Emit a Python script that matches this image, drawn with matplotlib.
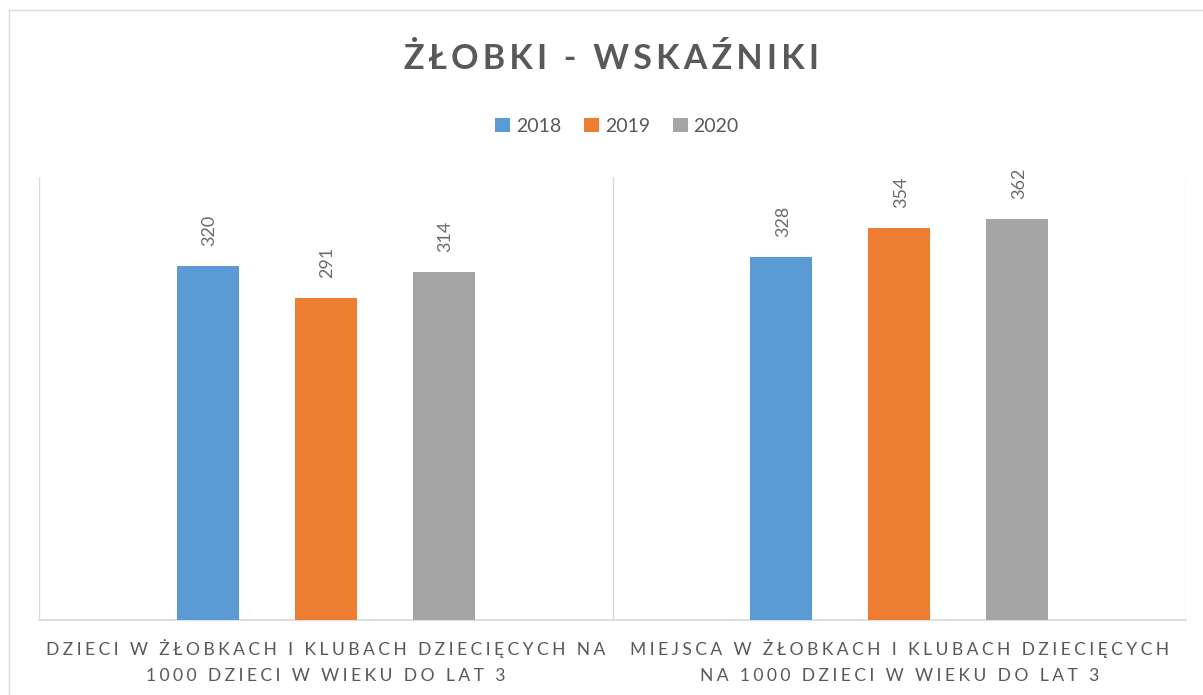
import numpy as np
import matplotlib.pyplot as plt

plt.rcParams['font.family'] = ['Lato', 'DejaVu Sans']

# data
categories = ["DZIECI W ŻŁOBKACH I KLUBACH DZIECIĘCYCH NA\n1000 DZIECI W WIEKU DO LAT 3",
              "MIEJSCA W ŻŁOBKACH I KLUBACH DZIECIĘCYCH\nNA 1000 DZIECI W WIEKU DO LAT 3"]
years = ["2018", "2019", "2020"]
values = {"2018": [320, 328],
          "2019": [291, 354],
          "2020": [314, 362]}
colors = ["#5B9BD5", "#ED7D31", "#A5A5A5"]

txt = "#595959"
grid = "#D9D9D9"


def track(s, sp="\u200a"):
    # fake letter spacing with hair spaces
    return "\n".join(sp.join(line) for line in s.split("\n"))


fig = plt.figure(figsize=(12.03, 6.95), dpi=100)
ax = fig.add_axes([39/1203, 75/695, (1186-39)/1203, (620-177)/695])

x = np.arange(len(categories))
w = 0.108
step = 0.2056
for i, (yr, c) in enumerate(zip(years, colors)):
    pos = x + (i-1)*step
    ax.bar(pos, values[yr], width=w, color=c, label=yr, zorder=3)
    for p, v in zip(pos, values[yr]):
        ax.text(p + 0.003, v + 18, str(v), rotation=90, ha='center', va='bottom',
                fontsize=13, color="#6b6b6b")

ax.set_xlim(-0.5, 1.5)
ax.set_ylim(0, 400)
ax.set_yticks([])
for b in [-0.5, 0.5, 1.5]:
    ax.axvline(b, color=grid, lw=1, zorder=1)
for s in ['top', 'right', 'left']:
    ax.spines[s].set_visible(False)
ax.spines['bottom'].set_color(grid)
ax.spines['bottom'].set_linewidth(1.2)

ax.set_xticks(x)
ax.set_xticklabels([track(c, "\u2009\u200a") for c in categories], fontsize=12.6,
                   color=txt, linespacing=1.7)
ax.tick_params(axis='x', length=0, pad=14)

fig.text(612/1203, 1-59/695, track("ŻŁOBKI - WSKAŹNIKI", "\u2009"), ha='center', va='center',
         fontsize=24.5, fontweight='bold', color=txt)

leg = fig.legend(loc='center', bbox_to_anchor=(617/1203, 1-126/695), ncol=3,
                 frameon=False, fontsize=14, handlelength=0.75, handleheight=0.75,
                 handletextpad=0.3, columnspacing=1.2, labelcolor=txt)

# outer chart border
fig.add_artist(plt.Line2D([9/1203, 9/1203], [0, 1-10/695], color=grid, lw=1))
fig.add_artist(plt.Line2D([9/1203, 1], [1-10/695, 1-10/695], color=grid, lw=1))

fig.savefig("out.png", dpi=100)
